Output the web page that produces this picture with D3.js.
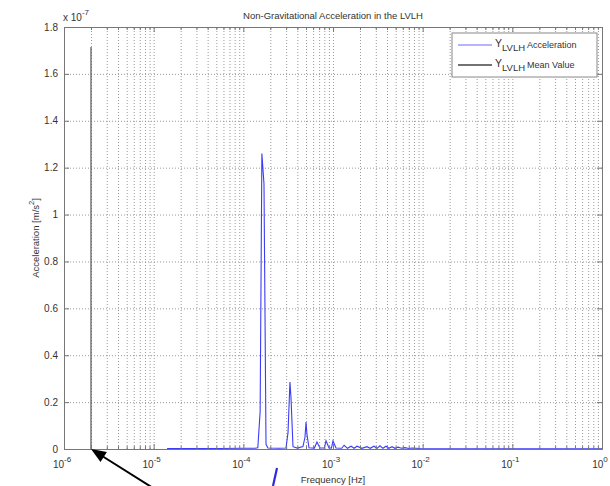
<!DOCTYPE html>
<html>
<head>
<meta charset="utf-8">
<script src="https://cdn.jsdelivr.net/npm/d3@7"></script>
<style>
  body { margin: 0; background: #fff; }
  text { font-family: "Liberation Sans", Arial, sans-serif; fill: #333; }
</style>
</head>
<body>
<div id="chart"></div>
<script>
// spectrum, acceleration in units of 1e-7 m/s^2
var freq = [1.41e-5, 3.0e-5, 5.5e-5, 1.0e-4, 1.35e-4, 1.45e-4, 1.54e-4, 1.61e-4, 1.70e-4, 1.79e-4, 1.88e-4,
            2.5e-4, 2.99e-4, 3.15e-4, 3.31e-4, 3.40e-4, 3.58e-4, 4.0e-4, 4.62e-4, 4.87e-4, 5.0e-4, 5.13e-4, 5.40e-4,
            6.2e-4, 6.62e-4, 7.16e-4, 8.0e-4, 8.36e-4, 9.0e-4, 9.6e-4, 1.0e-3, 1.08e-3, 1.25e-3, 1.33e-3, 1.45e-3,
            1.59e-3, 1.72e-3, 1.85e-3, 2.1e-3, 2.39e-3, 2.6e-3, 2.86e-3, 3.1e-3, 3.34e-3, 3.6e-3, 3.9e-3, 4.2e-3,
            4.55e-3, 4.9e-3, 5.31e-3, 5.8e-3, 6.35e-3, 7.0e-3, 7.6e-3, 9.3e-3, 2e-2, 1e-1, 1];
var accel = [0.002, 0.002, 0.002, 0.003, 0.003, 0.005, 0.16, 1.26, 1.13, 0.02, 0.004,
             0.003, 0.004, 0.07, 0.286, 0.22, 0.01, 0.004, 0.01, 0.05, 0.115, 0.06, 0.005,
             0.004, 0.03, 0.004, 0.004, 0.035, 0.005, 0.004, 0.035, 0.004, 0.003, 0.016, 0.003,
             0.012, 0.003, 0.012, 0.003, 0.01, 0.003, 0.012, 0.003, 0.014, 0.003, 0.012, 0.003,
             0.01, 0.003, 0.008, 0.003, 0.006, 0.002, 0.004, 0.002, 0.001, 0.001, 0.001];

// mean value line
var meanFreq = [2e-6, 2e-6];
var meanValue = [0, 1.715];

var xMajor = [1e-6, 1e-5, 1e-4, 1e-3, 1e-2, 1e-1, 1];
var xExponents = ["-6", "-5", "-4", "-3", "-2", "-1", "0"];
var yTicks = [0, 0.2, 0.4, 0.6, 0.8, 1, 1.2, 1.4, 1.6, 1.8];
var yTickLabels = ["0", "0.2", "0.4", "0.6", "0.8", "1", "1.2", "1.4", "1.6", "1.8"];
var legendNames = ["Acceleration", "Mean Value"];
var legendColors = ["#9d9dff", "#444"];

var width = 610, height = 486;
var margin = {top: 27, right: 8, bottom: 37, left: 64};
var plotW = width - margin.left - margin.right;
var plotH = height - margin.top - margin.bottom;

var svg = d3.select("#chart").append("svg")
    .attr("width", width)
    .attr("height", height);

svg.append("rect").attr("width", width).attr("height", height).attr("fill", "#fff");

var g = svg.append("g")
    .attr("transform", "translate(" + margin.left + "," + margin.top + ")");

var x = d3.scaleLog().domain([1e-6, 1]).range([0, plotW]);
var y = d3.scaleLinear().domain([0, 1.8]).range([plotH, 0]);

// minor tick positions (2..9 in each decade), plus majors
var xMinor = [];
xMajor.slice(0, -1).forEach(function(d){
    for (var k = 2; k <= 9; k++) xMinor.push(d * k);
});
var xAll = xMajor.concat(xMinor);

// dotted grid
var gridColor = "#9a9a9a";
g.append("g")
    .attr("transform", "translate(0," + plotH + ")")
    .call(d3.axisBottom(x).tickValues(xAll).tickSize(-plotH).tickFormat(""))
    .call(function(s){
        s.select(".domain").remove();
        s.selectAll("line").attr("stroke", gridColor).attr("stroke-dasharray", "1,2");
    });
g.append("g")
    .call(d3.axisLeft(y).tickValues(yTicks).tickSize(-plotW).tickFormat(""))
    .call(function(s){
        s.select(".domain").remove();
        s.selectAll("line").attr("stroke", gridColor).attr("stroke-dasharray", "1,2");
    });

// data
var line = d3.line()
    .x(function(d){ return x(d[0]); })
    .y(function(d){ return y(d[1]); });

g.append("path")
    .datum(d3.zip(freq, accel))
    .attr("d", line)
    .attr("fill", "none")
    .attr("stroke", "#3c3cf8")
    .attr("stroke-width", 1.1);

g.append("path")
    .datum(d3.zip(meanFreq, meanValue))
    .attr("d", line)
    .attr("fill", "none")
    .attr("stroke", "#555")
    .attr("stroke-width", 1.2);

// axes with inward ticks (MATLAB style, box on)
var axisColor = "#777";
function styleAxis(s){
    s.select(".domain").attr("stroke", axisColor);
    s.selectAll("line").attr("stroke", axisColor);
}
g.append("g").attr("transform", "translate(0," + plotH + ")")
    .call(d3.axisBottom(x).tickValues(xMajor).tickSize(-5).tickSizeOuter(0).tickFormat(""))
    .call(styleAxis);
g.append("g").attr("transform", "translate(0," + plotH + ")")
    .call(d3.axisBottom(x).tickValues(xMinor).tickSize(-3).tickSizeOuter(0).tickFormat(""))
    .call(styleAxis);
g.append("g")
    .call(d3.axisTop(x).tickValues(xMajor).tickSize(-5).tickSizeOuter(0).tickFormat(""))
    .call(styleAxis);
g.append("g")
    .call(d3.axisTop(x).tickValues(xMinor).tickSize(-3).tickSizeOuter(0).tickFormat(""))
    .call(styleAxis);
g.append("g")
    .call(d3.axisLeft(y).tickValues(yTicks).tickSize(-5).tickSizeOuter(0).tickFormat(""))
    .call(styleAxis);
g.append("g").attr("transform", "translate(" + plotW + ",0)")
    .call(d3.axisRight(y).tickValues(yTicks).tickSize(-5).tickSizeOuter(0).tickFormat(""))
    .call(styleAxis);

// tick labels
g.selectAll("text.ylab").data(yTicks)
    .enter().append("text")
    .attr("class", "ylab")
    .attr("x", -6)
    .attr("y", function(d){ return y(d) + 3.5; })
    .attr("text-anchor", "end")
    .style("font-size", "10px")
    .text(function(d, i){ return yTickLabels[i]; });

var xl = g.selectAll("text.xlab").data(xMajor)
    .enter().append("text")
    .attr("class", "xlab")
    .attr("x", function(d){ return x(d) - 2; })
    .attr("y", plotH + 19)
    .attr("text-anchor", "middle")
    .style("font-size", "10px");
xl.append("tspan").text("10");
xl.append("tspan").attr("dy", -6).style("font-size", "8px")
    .text(function(d, i){ return xExponents[i]; });

// multiplier
var mult = g.append("text").attr("x", -1).attr("y", -6).style("font-size", "10px");
mult.append("tspan").text("x 10");
mult.append("tspan").attr("dy", -6).style("font-size", "8px").text("-7");

// title and axis labels
g.append("text")
    .attr("x", plotW / 2)
    .attr("y", -8)
    .attr("text-anchor", "middle")
    .style("font-size", "9.5px")
    .text("Non-Gravitational Acceleration in the LVLH");

g.append("text")
    .attr("x", plotW / 2)
    .attr("y", plotH + 34)
    .attr("text-anchor", "middle")
    .style("font-size", "9.5px")
    .text("Frequency [Hz]");

var yl = g.append("text")
    .attr("transform", "translate(" + (-25) + "," + (plotH / 2) + ") rotate(-90)")
    .attr("text-anchor", "middle")
    .style("font-size", "9.5px");
yl.append("tspan").text("Acceleration [m/s");
yl.append("tspan").attr("dy", -5).style("font-size", "7.5px").text("2");
yl.append("tspan").attr("dy", 5).text("]");

// legend
var lg = g.append("g").attr("transform", "translate(" + (plotW - 150) + ",6)");
lg.append("rect")
    .attr("width", 145).attr("height", 44)
    .attr("fill", "#fff").attr("stroke", "#888");
legendNames.forEach(function(name, i){
    var yy = 12 + i * 20;
    lg.append("line")
        .attr("x1", 6).attr("x2", 40).attr("y1", yy).attr("y2", yy)
        .attr("stroke", legendColors[i]).attr("stroke-width", 1.5);
    var t = lg.append("text").attr("x", 43).attr("y", yy + 2).style("font-size", "10.5px");
    t.append("tspan").text("Y");
    t.append("tspan").attr("dy", 4).style("font-size", "9.5px").text("LVLH");
    t.append("tspan").attr("dy", -3).attr("dx", 2).style("font-size", "9px").text(name);
});

// annotation arrow pointing at the mean value line foot
var tip = [margin.left + x(meanFreq[0]), margin.top + y(0)];
var tail = [tip[0] + 62, height + 2];
var ang = Math.atan2(tail[1] - tip[1], tail[0] - tip[0]);
svg.append("line")
    .attr("x1", tip[0] + 8 * Math.cos(ang)).attr("y1", tip[1] + 8 * Math.sin(ang))
    .attr("x2", tail[0]).attr("y2", tail[1])
    .attr("stroke", "#000").attr("stroke-width", 2);
var hl = 15, hw = 6;
var bx = tip[0] + hl * Math.cos(ang), by = tip[1] + hl * Math.sin(ang);
svg.append("path")
    .attr("d", "M" + tip[0] + "," + tip[1] +
        "L" + (bx - hw * Math.sin(ang)) + "," + (by + hw * Math.cos(ang)) +
        "L" + (bx + hw * Math.sin(ang)) + "," + (by - hw * Math.cos(ang)) + "Z")
    .attr("fill", "#000");

// stray blue stroke below the axis
svg.append("line")
    .attr("x1", 277).attr("y1", 468).attr("x2", 273).attr("y2", 486)
    .attr("stroke", "#2a2ae0").attr("stroke-width", 2.2);
</script>
</body>
</html>
